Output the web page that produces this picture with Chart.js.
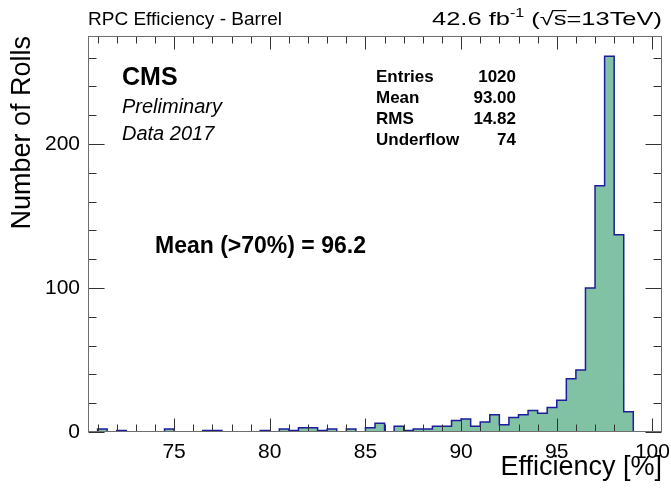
<!DOCTYPE html>
<html>
<head>
<meta charset="utf-8">
<script src="https://cdn.jsdelivr.net/npm/chart.js@4"></script>
<style>
  html, body { margin: 0; padding: 0; background: #fff; }
  canvas { display: block; }
</style>
</head>
<body>
<canvas id="effChart" width="671" height="488"></canvas>
<script>
/* Histogram binning */
const binLow = 70.5;
const binWidth = 0.5;
// rolls per 0.5% bin, 70.5 .. 100.5
const counts = [
  0, 2, 0, 1, 0, 0, 0, 0, 2, 0,
  0, 0, 1, 1, 0, 0, 0, 0, 1, 0,
  2, 1, 3, 3, 1, 2, 0, 2, 0, 3,
  6, 0, 4, 1, 2, 2, 4, 4, 8, 9,
  4, 7, 12, 5, 10, 12, 15, 13, 17, 22,
  37, 43, 100, 171, 261, 137, 14, 0, 0, 0
];

const xTicks = [75, 80, 85, 90, 95, 100];
const yTicks = [0, 100, 200];

const statLabels = ['Entries', 'Mean', 'RMS', 'Underflow'];
const statValues = ['1020', '93.00', '14.82', '74'];
const meanNote = 'Mean (>70%) = 96.2';

/* Colours */
let fillGreen = 'rgb(130, 194, 164)';
let lineBlue = 'rgb(28, 28, 156)';
let frameGray = '#6e6e6e';

const FONT = "'Liberation Sans', Arial, Helvetica, sans-serif";

// step outline: one point on each lower edge, plus the closing edge
const stepPoints = counts.map((c, i) => ({ x: binLow + i * binWidth, y: c }));
stepPoints.push({ x: binLow + counts.length * binWidth, y: counts[counts.length - 1] });

// ROOT-like frame with inward ticks on all four sides
const frameAndTicks = {
  id: 'frameAndTicks',
  afterDatasetsDraw(chart) {
    const { ctx, chartArea: a, scales: { x, y } } = chart;
    const L = Math.round(a.left) + 0.5, R = Math.round(a.right) - 0.5;
    const T = Math.round(a.top) + 0.5, B = Math.round(a.bottom) - 0.5;
    ctx.save();
    ctx.lineWidth = 1;
    ctx.strokeStyle = '#333';
    ctx.beginPath();
    for (let v = Math.ceil(x.min); v <= x.max; v++) {
      const px = Math.round(x.getPixelForValue(v)) + 0.5;
      const len = v % 5 === 0 ? 13 : 7;
      ctx.moveTo(px, B); ctx.lineTo(px, B - len);
      ctx.moveTo(px, T); ctx.lineTo(px, T + len);
    }
    for (let v = 0; v <= y.max; v += 20) {
      const py = Math.round(y.getPixelForValue(v)) + 0.5;
      const len = v % 100 === 0 ? 16 : 8;
      ctx.moveTo(L, py); ctx.lineTo(L + len, py);
      ctx.moveTo(R, py); ctx.lineTo(R - len, py);
    }
    ctx.stroke();
    ctx.strokeStyle = frameGray;
    ctx.strokeRect(L, T, R - L, B - T);
    ctx.restore();
  },
  afterDraw(chart) {
    const { ctx, chartArea: a } = chart;
    ctx.save();
    ctx.fillStyle = '#000';
    ctx.textBaseline = 'alphabetic';

    // header
    ctx.font = `19px ${FONT}`;
    ctx.textAlign = 'left';
    ctx.fillText('RPC Efficiency - Barrel', a.left, 25);

    // luminosity label, TLatex spacing is wider than plain text
    const parts = [
      { t: '42.6 fb', size: 19, dy: 0 },
      { t: '-1', size: 12, dy: -8 },
      { t: ' (', size: 19, dy: 0 },
      { t: '√', size: 19, dy: 0 },
      { t: 's', size: 19, dy: 0, bar: true },
      { t: '=13TeV)', size: 19, dy: 0 },
    ];
    let natural = 0;
    parts.forEach((p) => {
      ctx.font = `${p.size}px ${FONT}`;
      p.w = ctx.measureText(p.t).width;
      natural += p.w;
    });
    const lumiLeft = 432;
    const sx = (a.right - lumiLeft) / natural;
    ctx.translate(lumiLeft, 0);
    ctx.scale(sx, 1);
    let cx = 0;
    parts.forEach((p) => {
      ctx.font = `${p.size}px ${FONT}`;
      ctx.fillText(p.t, cx, 25 + p.dy);
      if (p.bar) ctx.fillRect(cx - 1, 10, p.w + 1, 1.2);
      cx += p.w;
    });
    ctx.setTransform(1, 0, 0, 1, 0, 0);

    // experiment label
    ctx.font = `bold 25px ${FONT}`;
    ctx.fillText('CMS', 122, 85);
    ctx.font = `italic 20px ${FONT}`;
    ctx.fillText('Preliminary', 122, 113);
    ctx.fillText('Data 2017', 122, 140);

    // stats box
    ctx.font = `bold 17px ${FONT}`;
    statLabels.forEach((s, i) => {
      const yy = 82 + i * 21;
      ctx.textAlign = 'left';
      ctx.fillText(s, 376, yy);
      ctx.textAlign = 'right';
      ctx.fillText(statValues[i], 516, yy);
    });

    ctx.textAlign = 'left';
    ctx.font = `bold 23px ${FONT}`;
    ctx.fillText(meanNote, 155, 253);
    ctx.restore();
  }
};

const data = {
  datasets: [
    {
      label: 'Rolls',
      data: stepPoints,
      stepped: true,
      fill: 'origin',
      backgroundColor: fillGreen,
      borderColor: lineBlue,
      borderWidth: 1.5,
      pointRadius: 0,
      clip: 0,
    },
  ],
};

const chartConfig = {
  type: 'line',
  data,
  options: {
    responsive: false,
    animation: false,
    devicePixelRatio: 1,
    layout: { autoPadding: false, padding: { left: 0, top: 36, right: 9, bottom: 0 } },
    plugins: { legend: { display: false }, tooltip: { enabled: false } },
    scales: {
      x: {
        type: 'linear',
        min: binLow,
        max: binLow + counts.length * binWidth,
        afterBuildTicks: (s) => { s.ticks = xTicks.map((v) => ({ value: v })); },
        afterFit: (s) => { s.height = 56; s.paddingLeft = 0; s.paddingRight = 0; },
        grid: { display: false, drawTicks: false },
        border: { display: false },
        ticks: {
          autoSkip: false, maxRotation: 0, padding: 8, color: '#000',
          font: { family: FONT, size: 21 },
        },
        title: {
          display: true, text: 'Efficiency [%]', align: 'end', color: '#000',
          font: { family: FONT, size: 27 }, padding: { top: 0, bottom: 4 },
        },
      },
      y: {
        min: 0,
        max: 275,
        afterBuildTicks: (s) => { s.ticks = yTicks.map((v) => ({ value: v })); },
        afterFit: (s) => { s.width = 88; s.paddingTop = 0; s.paddingBottom = 0; },
        grid: { display: false, drawTicks: false },
        border: { display: false },
        ticks: {
          padding: 8, color: '#000',
          font: { family: FONT, size: 21 },
        },
        title: {
          display: true, text: 'Number of Rolls', align: 'end', color: '#000',
          font: { family: FONT, size: 27 }, padding: { top: 6, bottom: 0 },
        },
      },
    },
  },
  plugins: [frameAndTicks],
};

const ctx = document.getElementById('effChart').getContext('2d');
const effChart = new Chart(ctx, chartConfig);
</script>
</body>
</html>
